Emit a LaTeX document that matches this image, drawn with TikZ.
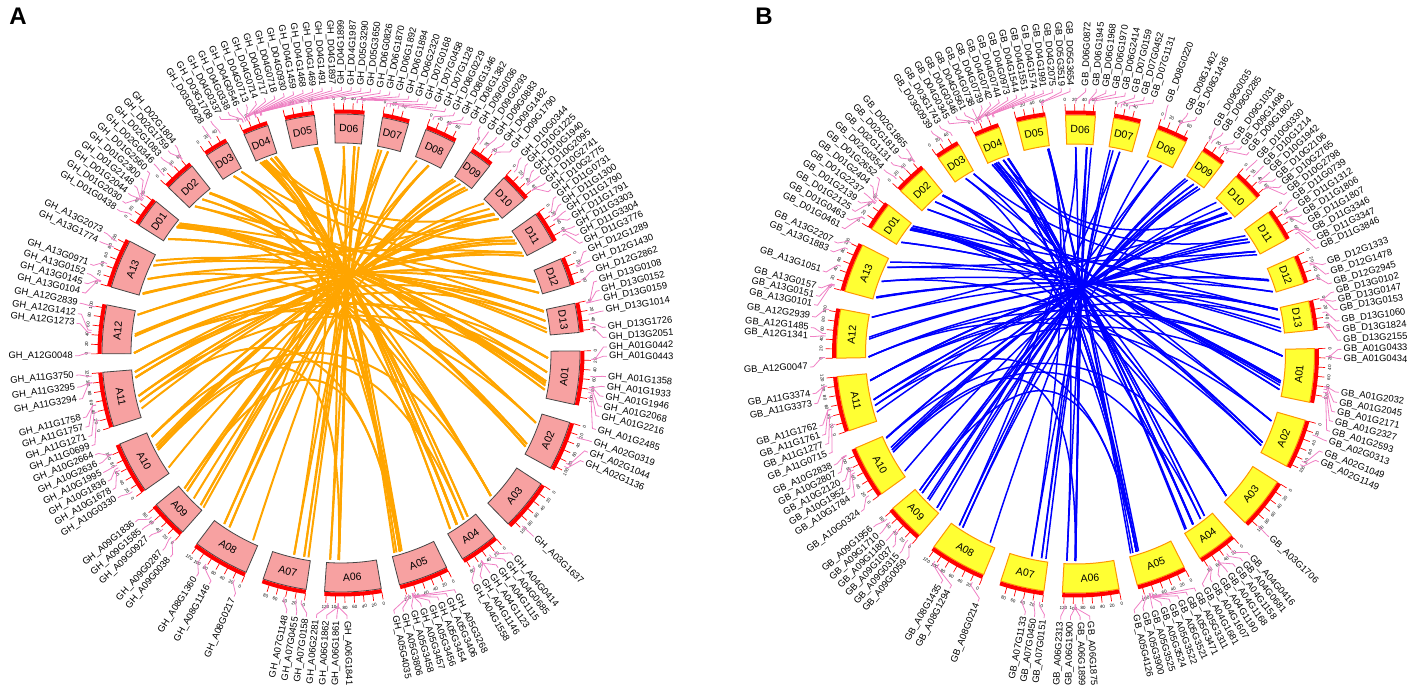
\documentclass[tikz,border=0pt]{standalone}
\usepackage{fontspec}
\setmainfont{Liberation Sans}
\usetikzlibrary{calc}
\definecolor{chrpink}{RGB}{247,161,161}
\definecolor{chryel}{RGB}{255,255,51}
\definecolor{chrorg}{RGB}{255,150,0}
\definecolor{leadpink}{RGB}{240,128,196}
\definecolor{lnkorg}{RGB}{255,165,0}
\definecolor{lnkblue}{RGB}{0,0,255}
\definecolor{boxgray}{RGB}{70,70,70}
\tikzset{
  chrA/.style={fill=chrpink, draw=boxgray, line width=0.8pt},
  chrB/.style={fill=chryel, draw=chrorg, line width=1pt},
  band/.style={draw=red, line width=4pt},
  tickln/.style={draw=red, line width=0.7pt},
  ticklbl/.style={font=\fontsize{4.5}{5}\selectfont, inner sep=0pt},
  chrlbl/.style={font=\fontsize{10.5}{12}\selectfont, inner sep=0pt},
  lead/.style={draw=leadpink, line width=0.8pt},
  glbl/.style={font=\fontsize{9.4}{11}\selectfont, inner sep=0pt},
  lnkA/.style={draw=lnkorg, line width=2pt},
  lnkB/.style={draw=lnkblue, line width=1.5pt},
  panel/.style={font=\bfseries\fontsize{24}{28}\selectfont, inner sep=0pt}
}
\newcommand\defchr[4]{\expandafter\def\csname cs#1\endcsname{#2}\expandafter\def\csname cl#1\endcsname{#3}\expandafter\def\csname cn#1\endcsname{#4}}
\defchr{D06}{91.6}{65.3}{2550}
\defchr{D07}{80.0}{58.3}{2300}
\defchr{D08}{69.2}{68.5}{2400}
\defchr{D09}{57.2}{51.6}{2050}
\defchr{D10}{47.1}{65.5}{2950}
\defchr{D11}{35.5}{71.4}{3950}
\defchr{D12}{23.2}{62.1}{3100}
\defchr{D13}{12.0}{64.3}{2300}
\defchr{A01}{0.5}{117.8}{3000}
\defchr{A02}{-16.9}{108.1}{1350}
\defchr{A03}{-33.2}{113.1}{1950}
\defchr{A04}{-50.1}{85.1}{1800}
\defchr{A05}{-63.8}{109.4}{4300}
\defchr{A06}{-80.3}{124.1}{2450}
\defchr{A07}{-98.4}{96.4}{2600}
\defchr{A08}{-113.4}{124.3}{1700}
\defchr{A09}{-131.5}{82.9}{2200}
\defchr{A10}{-145.0}{114.9}{3000}
\defchr{A11}{-162.1}{120.7}{3950}
\defchr{A12}{-179.8}{107.5}{3100}
\defchr{A13}{-196.0}{108.1}{2350}
\defchr{D01}{-212.3}{64.0}{2800}
\defchr{D02}{-223.8}{69.6}{2000}
\defchr{D03}{-235.8}{53.3}{1850}
\defchr{D04}{-246.1}{55.5}{2200}
\defchr{D05}{-256.6}{63.8}{3800}
\newcommand\gang[3]{\edef\myid{1#3}%
  \pgfmathsetmacro#1{\myrot+\csname cs#2\endcsname-0.11*\csname cl#2\endcsname*min(1,(\myid-10000)/\csname cn#2\endcsname)}}
\newcommand\drawchr[2]{%
  \pgfmathsetmacro\chs{\myrot+\csname cs#1\endcsname}%
  \pgfmathsetmacro\chl{\csname cl#1\endcsname}%
  \pgfmathsetmacro\che{\chs-0.11*\chl}%
  \pgfmathsetmacro\chm{(\chs+\che)/2}%
  \draw[#2] (\chs:210) arc[start angle=\chs, end angle=\che, radius=210] -- (\che:239) arc[start angle=\che, end angle=\chs, radius=239] -- cycle;
  \draw[band] (\chs:241.5) arc[start angle=\chs, end angle=\che, radius=241.5];
  \foreach \tk in {0,20,...,120} {%
    \ifdim\tk pt<\chl pt
      \pgfmathsetmacro\tka{\chs-0.11*\tk}%
      \draw[tickln] (\tka:243) -- (\tka:250);
      \pgfmathsetmacro\tkr{sin(\tka)>=0 ? \tka-90 : \tka+90}%
      \node[ticklbl, rotate=\tkr] at (\tka:254.5) {\tk};
    \fi}%
  \pgfmathsetmacro\chrot{sin(\chm)>=0 ? \chm-90 : \chm+90}%
  \node[chrlbl, rotate=\chrot] at (\chm:224.5) {#1};
}
\newcommand\glabels[3]{%
  \foreach \lang/\gid in {#3} {%
    \gang\gpos{#2}{\gid}%
    \draw[lead] (\gpos:250.5) -- (\gpos:254) -- (\lang:262.5) -- (\lang:266);
    \pgfmathsetmacro\lcos{cos(\lang)}%
    \ifdim\lcos pt<0pt
      \node[glbl, anchor=east, rotate=\lang+180] at (\lang:268) {#1\_#2G\gid};
    \else
      \node[glbl, anchor=west, rotate=\lang] at (\lang:268) {#1\_#2G\gid};
    \fi}}
\newcommand\lnk[5]{\gang\lka{#2}{#3}\gang\lkb{#4}{#5}%
  \draw[#1] (\lka:207) .. controls ($(\lka:207)!0.667!(hub)$) and ($(\lkb:207)!0.667!(hub)$) .. (\lkb:207);}
\begin{document}
\begin{tikzpicture}[x=1pt,y=1pt]
\useasboundingbox (0,0) rectangle (1417,697);
\node[panel] (pA) at (18,680.5) {A};
\node[panel] (pB) at (764,681) {B};
% ================= Panel A =================
\begin{scope}[shift={(341,344)}]
\def\myrot{0}
\coordinate (hub) at (8,110);
\foreach \cha/\ida/\chb/\idb in {A01/0442/D01/0438, A01/0443/D01/0438, A01/1358/D01/2044, A01/1933/D01/2030, A01/1946/D01/2044, A01/2068/D01/2148, A01/2216/D01/2300, A01/2485/D01/2560,
A02/0319/D02/0346, A02/1044/D02/1083, A02/1136/D02/1083, A02/0319/D03/0928,
A03/1637/D02/1759, A03/1637/D02/1804, A03/1637/D03/1708,
A04/0414/D04/0337, A04/0414/D04/0338, A04/0685/D04/0546, A04/1115/D04/0930, A04/1123/D04/1459, A04/1146/D04/1468, A04/1146/D04/1469, A04/1146/D04/1491, A04/1558/D04/1897, A04/1558/D04/1899,
A05/3268/D05/3290, A05/3806/D05/3650, A05/4035/D05/3650, A05/3454/D04/0713, A05/3456/D04/0714, A05/3457/D04/0717, A05/3458/D04/0718, A05/3406/D04/1987,
A06/1841/D06/1870, A06/1861/D06/1892, A06/1862/D06/1894, A06/2281/D06/2320, A06/1841/D06/0826,
A07/0158/D07/0168, A07/0455/D07/0458, A07/1148/D07/1128,
A08/0217/D08/0229, A08/1146/D08/1346, A08/1360/D08/1382,
A09/0038/D09/0036, A09/0287/D09/0293, A09/0927/D09/0883, A09/1585/D09/1482, A09/1836/D09/1790,
A10/0330/D10/0344, A10/1678/D10/1225, A10/1836/D10/1940, A10/1995/D10/2095, A10/2636/D10/2741, A10/2664/D10/2775,
A11/0699/D11/0731, A11/1271/D11/1300, A11/1757/D11/1790, A11/1758/D11/1791, A11/3294/D11/3303, A11/3295/D11/3304, A11/3750/D11/3776,
A12/0048/D13/0108, A12/1273/D12/1289, A12/1412/D12/1430, A12/2839/D12/2862,
A13/0104/D13/0108, A13/0145/D13/0152, A13/0152/D13/0159, A13/0971/D13/1014, A13/1774/D13/1726, A13/2073/D13/2051,
A12/0048/A01/1358, A12/0048/A02/0319, A11/3750/A01/0443, A11/3294/D13/1014, A13/0971/A02/1136, A10/2636/A03/1637, A11/1271/A05/3406, A10/1836/A06/1862, A09/1585/D08/1346, A08/1146/D09/1482, A07/0455/D06/1892, A06/2281/D05/3290, A05/3457/D03/0928, A04/1123/D02/1759, A03/1637/D01/2300, A02/1044/D01/2148, A01/2485/D02/1804, D04/0930/D11/1300, D04/1459/D10/2095, D03/1708/D12/1430, D02/0346/D13/0159, D01/2560/D12/2862, A13/1774/D11/3303, A12/2839/D10/2741, A01/1946/A11/1758, A05/3458/A09/1836, A04/0685/A10/1678, D05/3650/A07/1148, D06/0826/A08/1360, D07/1128/A09/0287}
{\lnk{lnkA}{\cha}{\ida}{\chb}{\idb}}
\foreach \nm in {A01,A02,A03,A04,A05,A06,A07,A08,A09,A10,A11,A12,A13,D01,D02,D03,D04,D05,D06,D07,D08,D09,D10,D11,D12,D13} {\drawchr{\nm}{chrA}}
\glabels{GH}{D01}{147.3/0438, 145.2/2030, 143.1/2044, 141.0/2148, 138.9/2300, 136.8/2560}
\glabels{GH}{D02}{134.7/0346, 132.6/1083, 130.5/1759, 128.6/1804}
\glabels{GH}{D03}{121.4/0928, 119.3/1708}
\glabels{GH}{D04}{117.2/0337, 115.1/0338, 113.0/0546, 110.9/0713, 108.8/0714, 106.7/0717, 104.6/0718, 102.5/0930, 100.4/1459, 98.3/1468, 96.2/1469, 94.1/1491, 92.0/1897, 89.9/1899, 87.8/1987}
\glabels{GH}{D05}{85.7/3290, 83.6/3650}
\glabels{GH}{D06}{81.5/0826, 79.4/1870, 77.3/1892, 75.2/1894, 73.1/2320}
\glabels{GH}{D07}{71.0/0168, 68.9/0458, 66.8/1128}
\glabels{GH}{D08}{64.7/0229, 62.6/1346, 60.5/1382}
\glabels{GH}{D09}{58.4/0036, 56.3/0293, 54.2/0883, 52.1/1482, 50.0/1790}
\glabels{GH}{D10}{47.3/0344, 45.4/1225, 43.5/1940, 41.7/2095, 39.8/2741, 37.9/2775}
\glabels{GH}{D11}{36.0/0731, 34.1/1300, 32.3/1790, 30.4/1791, 28.5/3303, 26.6/3304, 24.7/3776}
\glabels{GH}{D12}{22.6/1289, 20.3/1430, 18.0/2862}
\glabels{GH}{D13}{15.7/0108, 13.6/0152, 11.6/0159, 9.1/1014, 5.6/1726, 3.4/2051}
\glabels{GH}{A01}{1.3/0442, -0.7/0443, -5.1/1358, -7.3/1933, -9.4/1946, -11.6/2068, -13.8/2216, -16.7/2485}
\glabels{GH}{A02}{-19.5/0319, -21.9/1044, -24.2/1136}
\glabels{GH}{A03}{-43.6/1637}
\glabels{GH}{A04}{-49.6/0414, -51.7/0685, -53.8/1115, -55.9/1123, -58.0/1146, -60.1/1558}
\glabels{GH}{A05}{-64.4/3268, -66.4/3406, -68.4/3454, -70.4/3456, -72.4/3457, -74.4/3458, -76.4/3806, -78.4/4035}
\glabels{GH}{A06}{-88.7/1841, -90.9/1861, -93.1/1862, -95.3/2281}
\glabels{GH}{A07}{-97.5/0158, -99.7/0455, -101.9/1148}
\glabels{GH}{A08}{-113.7/0217, -119.7/1146, -122.9/1360}
\glabels{GH}{A09}{-129.9/0038, -132.1/0287, -136.2/0927, -138.4/1585, -140.6/1836}
\glabels{GH}{A10}{-147.0/0330, -149.1/1678, -151.2/1836, -153.3/1995, -155.4/2636, -157.5/2664}
\glabels{GH}{A11}{-159.6/0699, -161.7/1271, -163.8/1757, -165.9/1758, -170.0/3294, -172.6/3295, -175.2/3750}
\glabels{GH}{A12}{-179.4/0048, 173.6/1273, 171.5/1412, 169.2/2839}
\glabels{GH}{A13}{166.8/0104, 164.7/0145, 162.6/0152, 160.5/0971, 155.2/1774, 153.0/2073}
\end{scope}
% ================= Panel B =================
\begin{scope}[shift={(1075.5,343)}]
\def\myrot{0.8}
\coordinate (hub) at (5,90);
\foreach \cha/\ida/\chb/\idb in {A01/0433/D01/0461, A01/0434/D01/0463, A01/2032/D01/2125, A01/2045/D01/2139, A01/2171/D01/2237, A01/2327/D01/2404, A01/2593/D01/2652,
A02/0313/D02/0354, A02/1049/D02/1131, A02/1149/D02/1131, A02/0313/D03/0939,
A03/1706/D02/1819, A03/1706/D02/1865, A03/1706/D03/1743,
A04/0416/D04/0345, A04/0416/D04/0346, A04/0681/D04/0561, A04/1158/D04/0973, A04/1168/D04/1544, A04/1190/D04/1551, A04/1190/D04/1574, A04/1607/D04/1991, A04/1681/D04/2075,
A05/3311/D05/3519, A05/3900/D05/3654, A05/4126/D05/3654, A05/3521/D04/0738, A05/3522/D04/0739, A05/3524/D04/0742, A05/3525/D04/0744, A05/3471/D04/2075,
A06/1875/D06/1945, A06/1899/D06/1968, A06/1900/D06/1970, A06/2313/D06/2414, A06/1875/D06/0872,
A07/0151/D07/0159, A07/0450/D07/0452, A07/1133/D07/1131,
A08/0214/D08/0220, A08/1294/D08/1402, A08/1435/D08/1436,
A09/0059/D09/0035, A09/0315/D09/0285, A09/1037/D09/1031, A09/1180/D09/1031, A09/1710/D09/1498, A09/1956/D09/1802,
A10/0324/D10/0330, A10/1784/D10/1214, A10/1952/D10/1942, A10/2120/D10/2106, A10/2807/D10/2765, A10/2838/D10/2798,
A11/0715/D11/0739, A11/1277/D11/1312, A11/1761/D11/1806, A11/1762/D11/1807, A11/3373/D11/3346, A11/3374/D11/3347, A11/3374/D11/3846,
A12/0047/D13/0102, A12/1341/D12/1333, A12/1485/D12/1478, A12/2939/D12/2945,
A13/0101/D13/0102, A13/0151/D13/0147, A13/0157/D13/0153, A13/1051/D13/1060, A13/1883/D13/1824, A13/2207/D13/2155,
A12/0047/A01/0433, A12/0047/A02/0313, A11/3374/A01/0434, A11/3373/D13/1060, A13/1051/A02/1149, A10/2807/A03/1706, A11/1277/A05/3471, A10/1952/A06/1900, A09/1710/D08/1402, A08/1294/D09/1498, A07/0450/D06/1968, A06/2313/D05/3519, A05/3524/D03/0939, A04/1168/D02/1819, A03/1706/D01/2404, A02/1049/D01/2237, A01/2593/D02/1865, D04/0973/D11/1312, D04/1544/D10/2106, D03/1743/D12/1478, D02/0354/D13/0153, D01/2652/D12/2945, A13/1883/D11/3346, A12/2939/D10/2765, A01/2045/A11/1762, A05/3525/A09/1956, A04/0681/A10/1784, D05/3654/A07/1133, D06/0872/A08/1435, D07/1131/A09/0315}
{\lnk{lnkB}{\cha}{\ida}{\chb}{\idb}}
\foreach \nm in {A01,A02,A03,A04,A05,A06,A07,A08,A09,A10,A11,A12,A13,D01,D02,D03,D04,D05,D06,D07,D08,D09,D10,D11,D12,D13} {\drawchr{\nm}{chrB}}
\glabels{GB}{D01}{151.5/0461, 149.3/0463, 147.1/2125, 144.9/2139, 142.7/2237, 140.5/2404, 138.3/2652}
\glabels{GB}{D02}{136.1/0354, 133.9/1131, 131.7/1819, 129.5/1865}
\glabels{GB}{D03}{122.9/0939, 120.8/1743}
\glabels{GB}{D04}{118.7/0345, 116.73/0346, 114.76/0561, 112.79/0738, 110.82/0739, 108.85/0742, 106.88/0744, 104.91/0973, 102.94/1544, 100.97/1551, 99.0/1574, 97.03/1991, 95.06/2075}
\glabels{GB}{D05}{93.1/3519, 91.2/3654}
\glabels{GB}{D06}{87.8/0872, 85.5/1945, 83.4/1968, 81.3/1970, 79.2/2414}
\glabels{GB}{D07}{77.1/0159, 75.0/0452, 72.9/1131}
\glabels{GB}{D08}{69.6/0220, 65.0/1402, 62.9/1436}
\glabels{GB}{D09}{58.3/0035, 56.3/0285, 53.3/1031, 51.3/1498, 49.3/1802}
\glabels{GB}{D10}{46.9/0330, 45.0/1214, 43.1/1942, 41.2/2106, 39.3/2765, 37.4/2798}
\glabels{GB}{D11}{35.5/0739, 33.5/1312, 31.6/1806, 29.6/1807, 27.6/3346, 25.6/3347, 23.7/3846}
\glabels{GB}{D12}{19.9/1333, 17.7/1478, 15.5/2945}
\glabels{GB}{D13}{13.5/0102, 11.6/0147, 9.7/0153, 7.2/1060, 5.1/1824, 3.0/2155}
\glabels{GB}{A01}{1.0/0433, -1.0/0434, -8.3/2032, -10.5/2045, -12.6/2171, -14.7/2327, -16.9/2593}
\glabels{GB}{A02}{-19.1/0313, -21.7/1049, -23.9/1149}
\glabels{GB}{A03}{-43.4/1706}
\glabels{GB}{A04}{-49.1/0416, -51.1/0681, -53.1/1158, -55.1/1168, -57.1/1190, -59.1/1607, -61.1/1681}
\glabels{GB}{A05}{-63.1/3311, -65.1/3471, -67.1/3521, -69.1/3522, -71.1/3524, -73.1/3525, -75.1/3900, -77.1/4126}
\glabels{GB}{A06}{-86.9/1875, -89.0/1899, -91.1/1900, -93.2/2313}
\glabels{GB}{A07}{-96.8/0151, -98.9/0450, -101.0/1133}
\glabels{GB}{A08}{-111.5/0214, -118.2/1294, -120.4/1435}
\glabels{GB}{A09}{-129.4/0059, -131.4/0315, -133.4/1037, -135.4/1180, -137.4/1710, -139.4/1956}
\glabels{GB}{A10}{-143.7/0324, -147.3/1784, -149.3/1952, -151.3/2120, -153.3/2807, -155.3/2838}
\glabels{GB}{A11}{-158.0/0715, -160.1/1277, -162.2/1761, -164.3/1762, -169.2/3373, -171.4/3374}
\glabels{GB}{A12}{-177.2/0047, 176.2/1341, 174.3/1485, 171.9/2939}
\glabels{GB}{A13}{169.3/0101, 167.3/0151, 165.4/0157, 161.8/1051, 157.1/1883, 155.0/2207}
\end{scope}
\end{tikzpicture}
\end{document}
